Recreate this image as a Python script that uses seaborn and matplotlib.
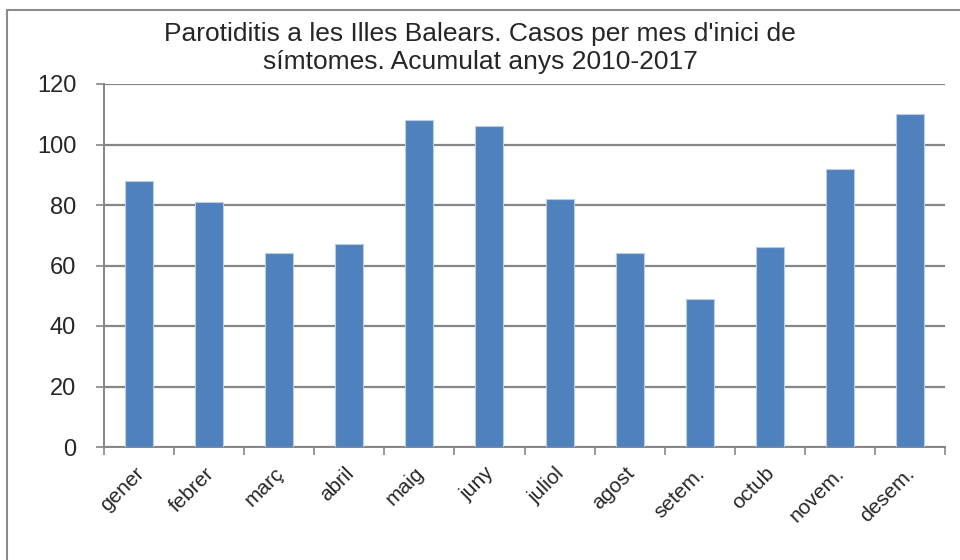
import matplotlib
matplotlib.use("Agg")
import matplotlib.pyplot as plt
import matplotlib.transforms as mtransforms
import seaborn as sns
import pandas as pd
import numpy as np
from matplotlib.patches import Rectangle

months = ["gener", "febrer", "març", "abril", "maig", "juny", "juliol",
          "agost", "setem.", "octub", "novem.", "desem."]
cases = [88, 81, 64, 67, 108, 106, 82, 64, 49, 66, 92, 110]
yticks = [0, 20, 40, 60, 80, 100, 120]
title = "Parotiditis a les Illes Balears. Casos per mes d'inici de\nsímtomes. Acumulat anys 2010-2017"

sns.set_theme(style="white")
plt.rcParams['font.family'] = ['Liberation Sans', 'DejaVu Sans']

df = pd.DataFrame({"mes": months, "casos": cases})

fig = plt.figure(figsize=(9.6, 5.6), dpi=100)
fig.patch.set_facecolor("white")
# outer chart border
fig.patches.append(Rectangle((7/960, -0.05), 1.1, 1 - 10/560 + 0.05,
                             transform=fig.transFigure, fill=False,
                             edgecolor="#8c8c8c", linewidth=1.5, zorder=0))

ax = fig.add_axes([104/960, 1 - 447/560, 841/960, (447 - 84)/560])
sns.barplot(data=df, x="mes", y="casos", color="#4F81BD", width=0.4,
            edgecolor="#b9cde5", linewidth=0.8, saturation=1, ax=ax, zorder=3)

ax.set_ylim(0, 120)
ax.set_xlim(-0.5, len(months) - 0.5)
ax.set_yticks(yticks)
ax.set_yticklabels([str(v) for v in yticks], fontsize=17)
ax.yaxis.grid(True, color="#868686", linewidth=1.6, zorder=0)
ax.set_axisbelow(True)
ax.set_xlabel("")
ax.set_ylabel("")

ax.set_xticks(range(len(months)))
ax.set_xticklabels(months, rotation=45, ha="right", rotation_mode="anchor",
                   fontsize=15)
ax.tick_params(axis="x", which="major", length=0, pad=12)
offset = mtransforms.ScaledTranslation(-5/100, 0, fig.dpi_scale_trans)
for lbl in ax.get_xticklabels():
    lbl.set_transform(lbl.get_transform() + offset)
ax.set_xticks(np.arange(-0.5, len(months), 1.0), minor=True)
ax.tick_params(axis="x", which="minor", length=6, color="#868686", width=1.2,
               bottom=True)
ax.tick_params(axis="y", which="major", length=6, color="#868686", width=1.2,
               left=True, pad=14)

for s in ["top", "right"]:
    ax.spines[s].set_visible(False)
for s in ["left", "bottom"]:
    ax.spines[s].set_color("#868686")
    ax.spines[s].set_linewidth(1.4)

fig.text(0.5, 1 - 48/560, title, ha="center", va="center", fontsize=19,
         linespacing=1.25)

fig.savefig("out.png", dpi=100)
